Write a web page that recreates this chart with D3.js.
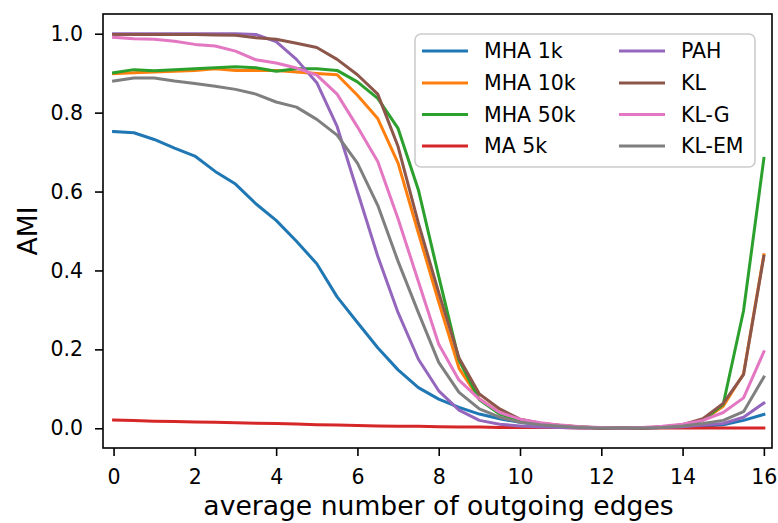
<html lang="en">
<head>
<meta charset="UTF-8">
<title>AMI vs outgoing edges</title>
<style>
    body { margin: 0; background: #fff; }
    svg text { font-family: "DejaVu Sans", sans-serif; fill: #000; }
</style>
</head>
<body>
<svg id="chart" width="778" height="523"></svg>
<script src="https://d3js.org/d3.v7.min.js"></script>
<script>
    // x values: average number of outgoing edges
    const edges = [0, 0.5, 1, 1.5, 2, 2.5, 3, 3.5, 4, 4.5, 5, 5.5, 6, 6.5, 7, 7.5, 8,
                   8.5, 9, 9.5, 10, 10.5, 11, 11.5, 12, 12.5, 13, 13.5, 14, 14.5, 15, 15.5, 16];

    const mha1k = [0.752,0.749,0.732,0.710,0.690,0.651,0.619,0.569,0.527,0.474,0.417,0.333,0.268,0.204,0.148,0.103,0.074,
                   0.053,0.036,0.024,0.015,0.009,0.005,0.003,0.001,0.001,0.001,0.002,0.003,0.005,0.009,0.020,0.035];
    const mha10k = [0.899,0.901,0.903,0.905,0.907,0.911,0.907,0.907,0.907,0.903,0.899,0.896,0.844,0.785,0.672,0.495,0.320,
                    0.152,0.074,0.040,0.022,0.013,0.007,0.003,0.001,0.001,0.001,0.003,0.008,0.020,0.056,0.138,0.440];
    const mha50k = [0.901,0.909,0.906,0.909,0.911,0.914,0.916,0.914,0.905,0.911,0.911,0.907,0.878,0.836,0.760,0.604,0.385,
                    0.172,0.072,0.036,0.019,0.011,0.006,0.003,0.001,0.001,0.001,0.003,0.008,0.020,0.061,0.298,0.684];
    const ma5k = [0.021,0.020,0.018,0.017,0.016,0.015,0.014,0.013,0.012,0.011,0.009,0.008,0.007,0.006,0.005,0.005,0.004,
                  0.003,0.003,0.002,0.002,0.002,0.002,0.001,0.001,0.001,0.001,0.001,0.001,0.001,0.001,0.001,0.001];
    const pah = [1.0,1.0,1.0,1.0,1.0,1.0,1.0,0.998,0.980,0.935,0.876,0.765,0.600,0.436,0.293,0.175,0.095,
                 0.046,0.020,0.010,0.006,0.003,0.002,0.001,0.001,0.001,0.001,0.002,0.004,0.008,0.012,0.028,0.064];
    const kl = [0.998,0.998,0.998,0.998,0.998,0.997,0.996,0.990,0.986,0.976,0.965,0.935,0.896,0.847,0.714,0.520,0.344,
                0.178,0.087,0.049,0.023,0.013,0.007,0.003,0.001,0.001,0.001,0.003,0.009,0.024,0.063,0.136,0.436];
    const klG = [0.991,0.987,0.986,0.981,0.973,0.969,0.956,0.934,0.926,0.913,0.895,0.847,0.764,0.676,0.531,0.372,0.213,
                 0.122,0.074,0.040,0.023,0.014,0.008,0.004,0.002,0.001,0.002,0.005,0.010,0.020,0.040,0.077,0.194];
    const klEM = [0.880,0.888,0.888,0.880,0.874,0.867,0.859,0.847,0.827,0.814,0.783,0.743,0.672,0.565,0.423,0.293,0.167,
                  0.091,0.049,0.028,0.015,0.009,0.005,0.002,0.001,0.001,0.001,0.002,0.006,0.012,0.020,0.042,0.130];

    const seriesNames = ["MHA 1k", "MHA 10k", "MHA 50k", "MA 5k", "PAH", "KL", "KL-G", "KL-EM"];
    const seriesValues = [mha1k, mha10k, mha50k, ma5k, pah, kl, klG, klEM];
    const colors = ["#1f77b4", "#ff7f0e", "#2ca02c", "#d62728", "#9467bd", "#8c564b", "#e377c2", "#7f7f7f"];

    const xTicks = [0, 2, 4, 6, 8, 10, 12, 14, 16];
    const yTicks = [0.0, 0.2, 0.4, 0.6, 0.8, 1.0];

    // plot box in pixels
    const box = {left: 103, right: 772, top: 14, bottom: 448};

    const svg = d3.select("#chart");

    const x = d3.scaleLinear().domain([-0.26, 16.2]).range([box.left, box.right]);
    const y = d3.scaleLinear().domain([-0.05, 1.05]).range([box.bottom, box.top]);

    // clip lines to the axes box
    svg.append("defs").append("clipPath").attr("id", "clip")
        .append("rect").attr("x", box.left).attr("y", box.top)
        .attr("width", box.right - box.left).attr("height", box.bottom - box.top);

    const line = d3.line()
        .x((d, i) => x(edges[i]))
        .y(d => y(d));

    svg.append("g").attr("clip-path", "url(#clip)")
        .selectAll("path")
        .data(seriesValues)
        .enter().append("path")
        .attr("d", d => line(d))
        .attr("fill", "none")
        .attr("stroke", (d, i) => colors[i])
        .attr("stroke-width", 3)
        .attr("stroke-linejoin", "round")
        .attr("stroke-linecap", "square");

    // axes
    const xAxis = d3.axisBottom(x).tickValues(xTicks).tickFormat(d3.format("d"))
        .tickSize(8).tickPadding(12);
    const yAxis = d3.axisLeft(y).tickValues(yTicks).tickFormat(d3.format(".1f"))
        .tickSize(8).tickPadding(12);

    const gx = svg.append("g").attr("transform", `translate(0,${box.bottom})`).call(xAxis);
    const gy = svg.append("g").attr("transform", `translate(${box.left},0)`).call(yAxis);

    [gx, gy].forEach(g => {
        g.select(".domain").remove();
        g.selectAll(".tick line").attr("stroke", "#000").attr("stroke-width", 1.6);
        g.selectAll(".tick text").attr("font-size", 20.5).attr("fill", "#000");
    });
    gx.selectAll(".tick text").attr("dy", "0.76em");

    // spines
    svg.append("rect")
        .attr("x", box.left).attr("y", box.top)
        .attr("width", box.right - box.left).attr("height", box.bottom - box.top)
        .attr("fill", "none").attr("stroke", "#000").attr("stroke-width", 1.6);

    // axis labels
    svg.append("text")
        .attr("x", (box.left + box.right) / 2 + 1).attr("y", 515)
        .attr("text-anchor", "middle")
        .attr("font-size", 26.6)
        .text("average number of outgoing edges");

    svg.append("text")
        .attr("transform", `translate(37,${(box.top + box.bottom) / 2}) rotate(-90)`)
        .attr("text-anchor", "middle")
        .attr("font-size", 26.6)
        .text("AMI");

    // legend, two columns of four
    const legend = svg.append("g");
    legend.append("rect")
        .attr("x", 415).attr("y", 34)
        .attr("width", 340).attr("height", 133)
        .attr("rx", 6).attr("ry", 6)
        .attr("fill", "#fff").attr("fill-opacity", 0.8)
        .attr("stroke", "#cccccc").attr("stroke-width", 1.6);

    const colX = [422, 619];
    const rowY = [51, 83, 114.5, 146];

    const items = legend.selectAll("g.item")
        .data(seriesNames)
        .enter().append("g")
        .attr("class", "item")
        .attr("transform", (d, i) => `translate(${colX[Math.floor(i / 4)]},${rowY[i % 4]})`);

    items.append("line")
        .attr("x1", 0).attr("x2", 46)
        .attr("stroke", (d, i) => colors[i])
        .attr("stroke-width", 3);

    items.append("text")
        .attr("x", 62).attr("dy", "0.36em")
        .attr("font-size", 20.5)
        .text(d => d);
</script>
</body>
</html>
